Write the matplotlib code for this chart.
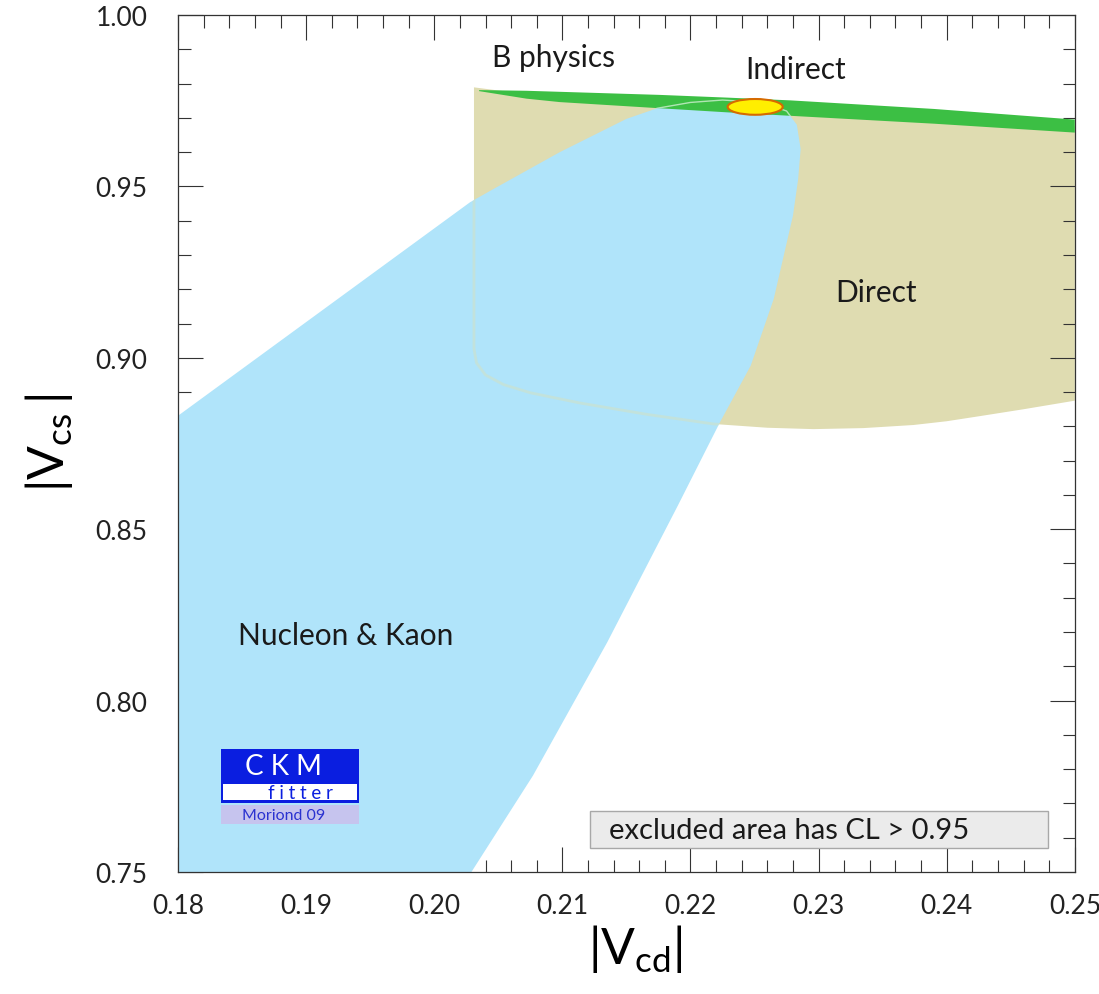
import numpy as np
import matplotlib.pyplot as plt
from matplotlib.patches import Polygon, Ellipse, Rectangle
from matplotlib.lines import Line2D
from matplotlib.ticker import MultipleLocator

plt.rcParams['font.family'] = ['Lato', 'DejaVu Sans']
plt.rcParams['mathtext.fontset'] = 'custom'
plt.rcParams['mathtext.rm'] = 'Lato'

# --- regions in the (|Vcd|, |Vcs|) plane ---
# Nucleon & Kaon (blue)
kaon_x = [0.1800, 0.1800, 0.2028, 0.2046, 0.2098, 0.2150, 0.2174, 0.2200,
          0.2225, 0.2255, 0.2275, 0.2283, 0.2286, 0.2284, 0.2280, 0.2265, 0.2247,
          0.2223, 0.2190, 0.2135, 0.2077, 0.2029]
kaon_y = [0.7500, 0.8831, 0.9454, 0.9492, 0.9600, 0.9697, 0.9728, 0.9745,
          0.9752, 0.9745, 0.9720, 0.9680, 0.9609, 0.9520, 0.9415, 0.9172, 0.8977,
          0.8812, 0.8568, 0.8170, 0.7781, 0.7500]

# Direct (tan)
direct_x = [0.2031, 0.2060, 0.2150, 0.2250, 0.2500, 0.2500, 0.2460, 0.2426, 0.2400,
            0.2374, 0.2335, 0.2296, 0.2260, 0.2218, 0.2166, 0.2114, 0.2075, 0.2054,
            0.2040, 0.2033, 0.2031]
direct_y = [0.9789, 0.9775, 0.9755, 0.9735, 0.9675, 0.8875, 0.8850, 0.8830, 0.8815,
            0.8804, 0.8795, 0.8792, 0.8796, 0.8807, 0.8835, 0.8868, 0.8898, 0.8922,
            0.8950, 0.8985, 0.9026]

# B physics (green band): upper and lower edge
bphys_x = [0.2035, 0.2072, 0.2098, 0.2176, 0.2229, 0.2278, 0.2390, 0.2500]
bphys_top = [0.9781, 0.9779, 0.9776, 0.9767, 0.9759, 0.9751, 0.9726, 0.9695]
bphys_bot = [0.9778, 0.9756, 0.9746, 0.9728, 0.9716, 0.9706, 0.9683, 0.9657]

# Indirect (yellow ellipse): centre and full widths
ind_center = (0.22505, 0.9732)
ind_width = 0.0043
ind_height = 0.0046

xticks = [0.18, 0.19, 0.20, 0.21, 0.22, 0.23, 0.24, 0.25]
yticks = [0.75, 0.80, 0.85, 0.90, 0.95, 1.00]

blue = '#b0e4fa'
tan = '#dfdcb1'
green = '#3cbf44'

fig = plt.figure(figsize=(10.99, 9.95), dpi=100)
ax = fig.add_axes([0.162, 0.1226, 0.816, 0.8613])

# tan first, blue over it, then green band and the ellipse
tan_patch = Polygon(np.column_stack([direct_x, direct_y]), closed=True,
                    facecolor=tan, edgecolor='none', zorder=1)
ax.add_patch(tan_patch)

kaon_patch = Polygon(np.column_stack([kaon_x, kaon_y]), closed=True,
                     facecolor=blue, edgecolor='none', zorder=2)
ax.add_patch(kaon_patch)

# faint outline of the Direct region seen through the blue
tan_line = Line2D(direct_x + [direct_x[0]], direct_y + [direct_y[0]],
                  color='#cfe2c8', lw=2, alpha=0.6, zorder=3)
ax.add_line(tan_line)
tan_line.set_clip_path(kaon_patch)

band = np.column_stack([bphys_x + bphys_x[::-1], bphys_top + bphys_bot[::-1]])
green_patch = Polygon(band, closed=True, facecolor=green, edgecolor='none', zorder=4)
ax.add_patch(green_patch)

# faint edge of the blue region seen through the green
kaon_line = Line2D(kaon_x, kaon_y, color='white', lw=1, alpha=0.6, zorder=5)
ax.add_line(kaon_line)
kaon_line.set_clip_path(green_patch)

ax.add_patch(Ellipse(ind_center, ind_width, ind_height, facecolor='#ffee00',
                     edgecolor='#d66a00', lw=1.5, zorder=6))

# region labels
txt = dict(fontsize=21.5, color='#1a1a1a', ha='center', va='center', zorder=7)
ax.text(0.2093, 0.9877, 'B physics', **txt)
ax.text(0.2282, 0.9842, 'Indirect', **txt)
ax.text(0.2345, 0.9192, 'Direct', **txt)
ax.text(0.1931, 0.8191, 'Nucleon & Kaon', **txt)

# CL note
ax.add_patch(Rectangle((0.4593, 0.028), 0.5106, 0.0432, transform=ax.transAxes,
                       facecolor='#ebebeb', edgecolor='#a8a8a8', lw=1, zorder=7))
ax.text(0.4805, 0.049, 'excluded area has CL > 0.95', transform=ax.transAxes,
        fontsize=21, color='#1a1a1a', ha='left', va='center', zorder=8)

# CKMfitter logo
ax.add_patch(Rectangle((0.0479, 0.0805), 0.1539, 0.063, transform=ax.transAxes,
                       facecolor='#0a1ee0', edgecolor='none', zorder=7))
ax.add_patch(Rectangle((0.0500, 0.0835), 0.1500, 0.0192, transform=ax.transAxes,
                       facecolor='white', edgecolor='none', zorder=8))
ax.add_patch(Rectangle((0.0479, 0.056), 0.1539, 0.0225, transform=ax.transAxes,
                       facecolor='#c6c4ee', edgecolor='none', zorder=7))
ax.text(0.117, 0.1235, 'C K M', transform=ax.transAxes, fontsize=20, color='white',
        ha='center', va='center', zorder=9)
ax.text(0.136, 0.0925, 'f i t t e r', transform=ax.transAxes, fontsize=13.5,
        color='#0a1ee0', ha='center', va='center', zorder=9)
ax.text(0.118, 0.067, 'Moriond 09', transform=ax.transAxes, fontsize=11.5,
        color='#2a32d0', ha='center', va='center', zorder=9)

# axes
ax.set_xlim(0.18, 0.25)
ax.set_ylim(0.75, 1.00)
ax.set_xticks(xticks)
ax.set_xticklabels(['%.2f' % v for v in xticks])
ax.set_yticks(yticks)
ax.set_yticklabels(['%.2f' % v for v in yticks])
ax.xaxis.set_minor_locator(MultipleLocator(0.002))
ax.yaxis.set_minor_locator(MultipleLocator(0.01))
ax.tick_params(which='both', direction='in', top=True, right=True,
               width=0.8, color='#333333')
ax.tick_params(which='major', length=18, labelsize=19, labelcolor='#222222')
ax.tick_params(axis='y', which='major', pad=22)
ax.tick_params(axis='x', which='major', pad=15)
ax.tick_params(which='minor', length=9)
for s in ax.spines.values():
    s.set_linewidth(0.9)
    s.set_color('#333333')

ax.set_xlabel(r'$|\mathregular{V}_{\mathregular{cd}}|$', fontsize=36)
ax.xaxis.set_label_coords(0.51, -0.058)
ax.set_ylabel(r'$|\mathregular{V}_{\mathregular{cs}}\,|$', fontsize=36)
ax.yaxis.set_label_coords(-0.115, 0.502)

fig.savefig('out.png', dpi=100)
